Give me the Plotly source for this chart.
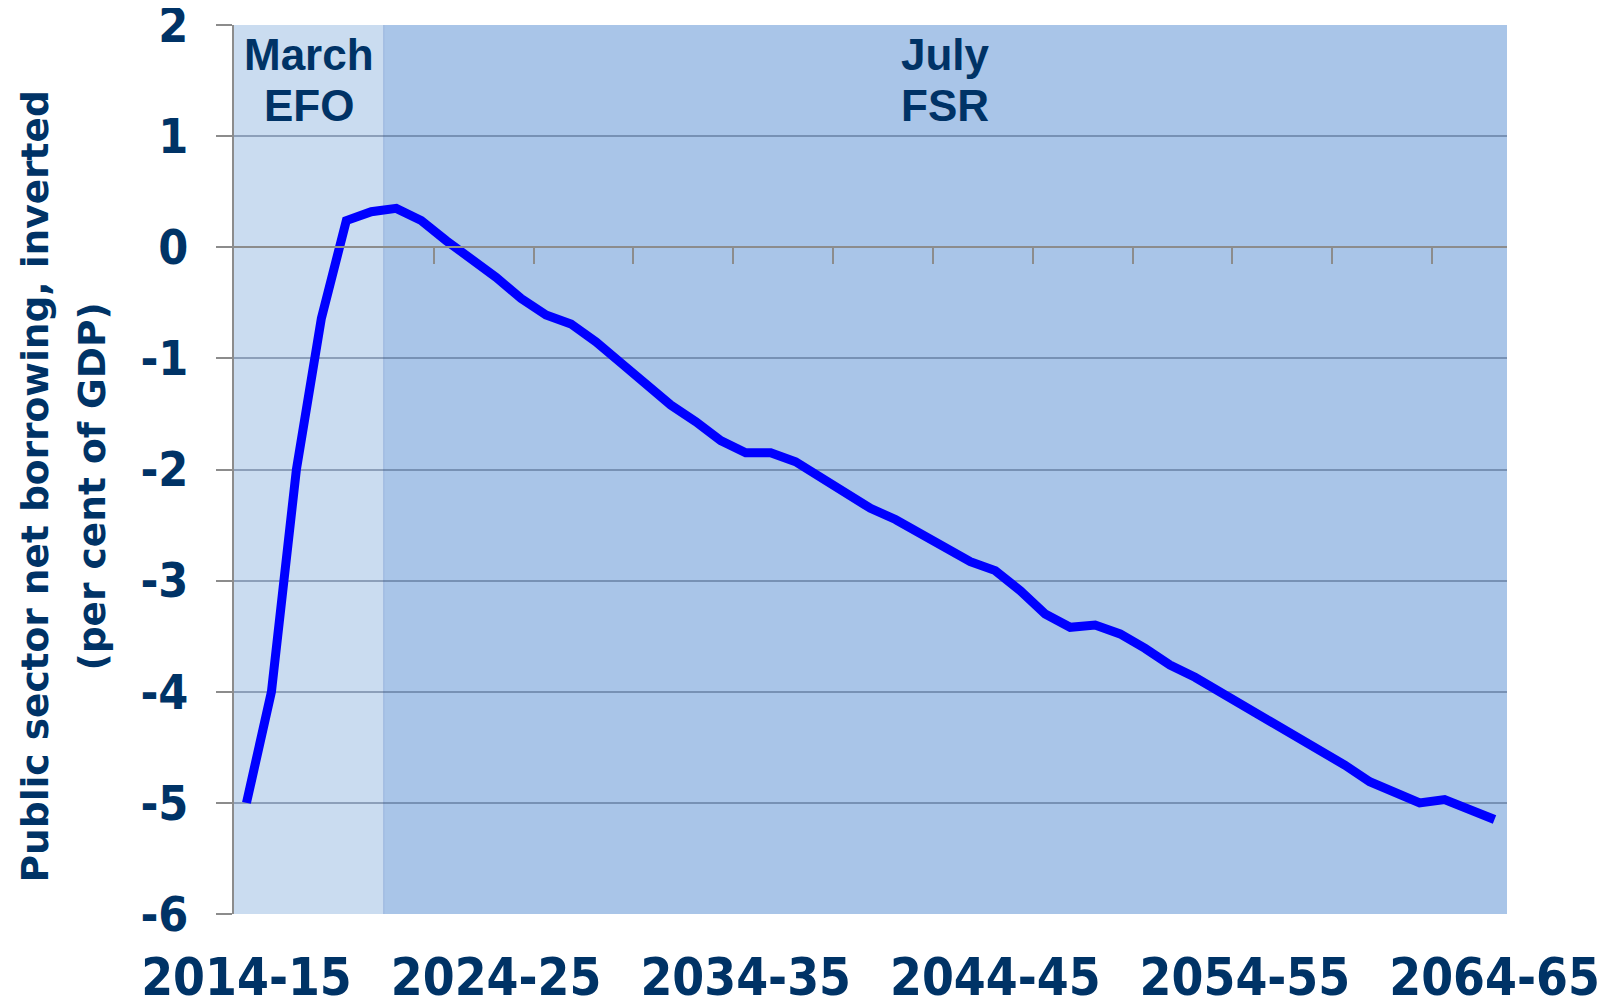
import plotly.graph_objects as go

# financial years 2014-15 .. 2064-65
years = [f"{y}-{str(y + 1)[-2:]}" for y in range(2014, 2065)]

# public sector net borrowing, inverted (% of GDP)
psnb_inverted = [
    -5.00, -4.00, -2.00, -0.64, 0.24, 0.32, 0.35, 0.24, 0.06, -0.10,
    -0.27, -0.46, -0.61, -0.69, -0.85, -1.04, -1.23, -1.42, -1.57, -1.74,
    -1.85, -1.85, -1.93, -2.07, -2.21, -2.35, -2.45, -2.58, -2.70, -2.83,
    -2.91, -3.09, -3.30, -3.42, -3.40, -3.48, -3.61, -3.76, -3.87, -4.00,
    -4.14, -4.28, -4.40, -4.53, -4.66, -4.81, -4.91, -5.00, -4.97, -5.05,
    -5.15,
]

tick_labels = ["2014-15", "2024-25", "2034-35", "2044-45", "2054-55", "2064-65"]
y_ticks = [2, 1, 0, -1, -2, -3, -4, -5, -6]

# forecast source periods
period_names = [["March", "EFO"], ["July", "FSR"]]
period_starts = ["2014-15", "2020-21"]
period_fill = ["#cadcf0", "#a9c5e8"]

y_title = ["Public sector net borrowing, inverted", "(per cent of GDP)"]

NAVY = "#003366"
GRID = "#8c8c8c"
GRID_ON_FILL = "rgba(40,60,95,0.38)"
FONT_BIG = "DejaVu Sans Condensed, DejaVu Sans, sans-serif"

y_min, y_max = y_ticks[-1], y_ticks[0]
n = len(years)
x_lo, x_hi = -0.5, n - 0.5

fig = go.Figure()
fig.add_trace(go.Scatter(
    x=years, y=psnb_inverted, mode="lines",
    line=dict(color="#0000ff", width=9),
    showlegend=False, hoverinfo="x+y",
))
# carrier trace for the zero-line axis with its minor ticks
fig.add_trace(go.Scatter(
    x=list(range(n)), y=psnb_inverted, mode="lines",
    line=dict(width=0), opacity=0, xaxis="x2",
    showlegend=False, hoverinfo="skip",
))

shapes, annotations = [], []
for k, (lines, start) in enumerate(zip(period_names, period_starts)):
    i0 = years.index(start) - 0.5
    i1 = (years.index(period_starts[k + 1]) - 0.5) if k + 1 < len(period_starts) else x_hi
    shapes.append(dict(
        type="rect", xref="x", yref="y domain", x0=i0, x1=i1, y0=0, y1=1,
        fillcolor=period_fill[k], line_width=0, layer="below",
    ))
    for j, line in enumerate(lines):
        annotations.append(dict(
            x=(i0 + i1) / 2, xref="x", y=1, yref="y domain",
            yanchor="middle", xanchor="center", yshift=-29 - 51 * j,
            text=line, showarrow=False,
            font=dict(family="Liberation Sans, Arial, sans-serif", size=44,
                      color=NAVY, weight="bold"),
        ))
    if k > 0:
        shapes.append(dict(
            type="line", xref="x", yref="y domain", x0=i0, x1=i0, y0=0, y1=1,
            line=dict(color="#98b5dc", width=1), layer="below",
        ))

# two-line y-axis title
for j, line in enumerate(y_title):
    annotations.append(dict(
        x=0, xref="paper", xanchor="center", xshift=-199 + 57 * j,
        y=0.481, yref="paper", yanchor="middle",
        text=line, textangle=-90, showarrow=False,
        font=dict(family="DejaVu Sans, sans-serif", size=37.5, color=NAVY,
                  weight="bold"),
    ))

fig.update_layout(
    width=1608, height=998,
    margin=dict(l=226, r=109, t=17, b=92, autoexpand=False),
    paper_bgcolor="white", plot_bgcolor="white",
    shapes=shapes, annotations=annotations,
    xaxis=dict(
        type="category", range=[x_lo, x_hi], automargin=False,
        tickvals=tick_labels, ticks="", showgrid=False, showline=False,
        tickfont=dict(family=FONT_BIG, size=51, color=NAVY, weight="bold"),
        ticklabelstandoff=29, ticklabeloverflow="allow",
    ),
    xaxis2=dict(
        overlaying="x", anchor="free", automargin=False,
        position=(0 - y_min) / (y_max - y_min),
        range=[x_lo, x_hi],
        tickvals=[b - 0.5 for b in range(8, n, 4)],
        ticks="outside", ticklen=16, tickwidth=2, tickcolor=GRID,
        showticklabels=False, showgrid=False,
        showline=True, linecolor=GRID, linewidth=2, zeroline=False,
    ),
    yaxis=dict(
        range=[y_min, y_max], tickvals=y_ticks, automargin=False,
        ticktext=[str(v) for v in y_ticks],
        showgrid=True, gridcolor=GRID_ON_FILL, gridwidth=2, zeroline=False,
        showline=True, linecolor=GRID, linewidth=2,
        ticks="outside", ticklen=16, tickwidth=2, tickcolor=GRID,
        tickfont=dict(family=FONT_BIG, size=48, color=NAVY, weight="bold"),
        ticklabelstandoff=18, ticklabeloverflow="allow",
    ),
)

fig.write_html("out.html")
